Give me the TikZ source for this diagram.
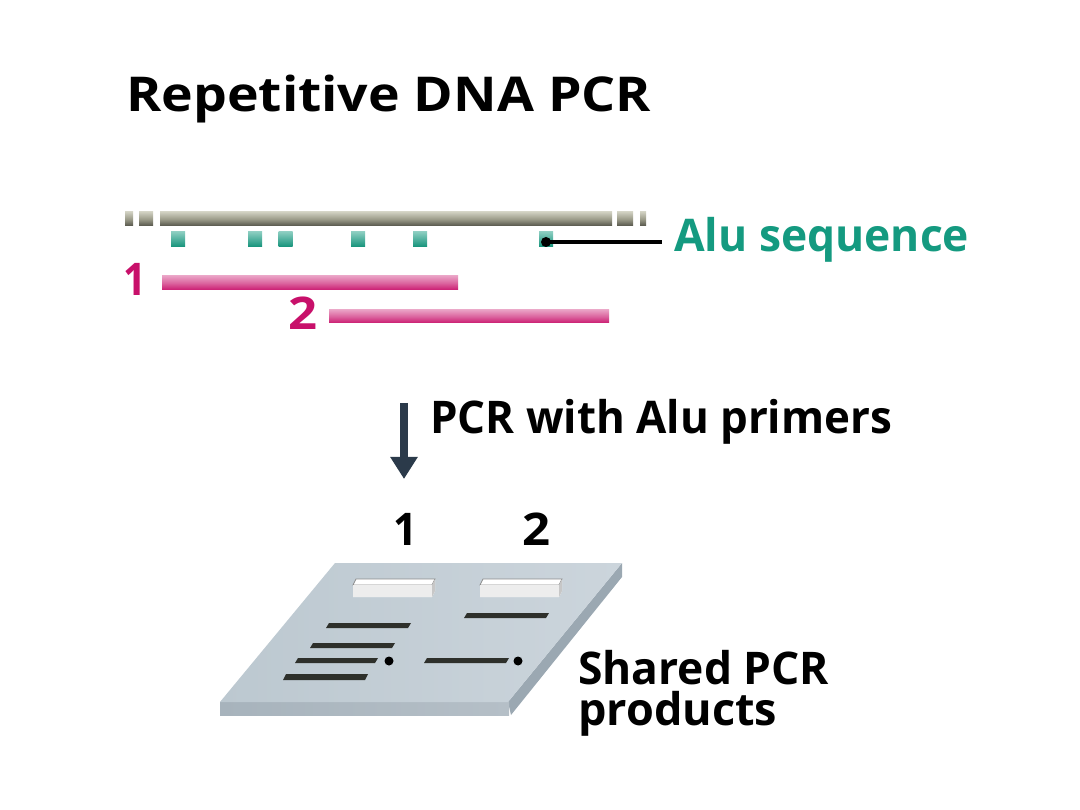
\documentclass[tikz,border=0pt]{standalone}
\usepackage{fontspec}
\usepackage{graphicx}
\setmainfont{Open Sans}
\usetikzlibrary{arrows.meta}
\definecolor{alu}{HTML}{149A80}
\definecolor{pinkc}{HTML}{C8106A}
\definecolor{arrowc}{HTML}{2B3A4A}
\definecolor{band}{HTML}{2E302B}
\definecolor{gtop}{HTML}{CFCFC0}
\definecolor{gmid}{HTML}{9C9C8A}
\definecolor{gbot}{HTML}{55554A}
\definecolor{geltopL}{HTML}{BCC8D0}
\definecolor{geltopR}{HTML}{CCD5DC}
\definecolor{gelfrontL}{HTML}{A7B3BC}
\definecolor{gelfrontR}{HTML}{B5BFC7}
\definecolor{gelside}{HTML}{9BA8B2}
\newcommand{\fitw}[2]{\resizebox{#1}{\height}{#2}}
\tikzset{
  lbl/.style={inner sep=0pt, anchor=base west, font=\bfseries\fontsize{45}{50}\selectfont},
  title/.style={inner sep=0pt, anchor=base west, font=\bfseries\fontsize{48}{54}\selectfont},
  graybar/.style={top color=gtop, bottom color=gbot, middle color=gmid, draw=none},
  pinkbar/.style={top color=pinkc!40, bottom color=pinkc!95, middle color=pinkc!65, draw=none},
  alusq/.style={minimum width=14pt, minimum height=15pt, inner sep=0pt, top color=alu!50, bottom color=alu!95!black, draw=none},
  bandp/.style={fill=band, draw=none},
}
\begin{document}
\begin{tikzpicture}[x=1pt,y=-1pt]
\useasboundingbox (0,0) rectangle (1080,810);
% title
\node[title] (title) at (126,112) {\fitw{525pt}{Repetitive DNA PCR}};
% gray DNA bar with dashes
\shade[graybar] (125,212) rectangle (133,226);
\shade[graybar] (139,212) rectangle (153,226);
\shade[graybar] (160,212) rectangle (612,226);
\shade[graybar] (617,212) rectangle (633,226);
\shade[graybar] (640,212) rectangle (646,226);
% Alu squares
\node[alusq] (sq1) at (178,239.5) {};
\node[alusq] (sq2) at (255,239.5) {};
\node[alusq] (sq3) at (285.5,239.5) {};
\node[alusq] (sq4) at (358,239.5) {};
\node[alusq] (sq5) at (420,239.5) {};
\node[alusq] (sq6) at (546,239.5) {};
\node[lbl, text=alu] (alu) at (674,252) {\fitw{295pt}{Alu sequence}};
\coordinate (aluend) at (662,242);
\draw[line width=3.5pt] (sq6.center |- 0,242) -- (aluend);
\fill (sq6.center |- 0,242) circle (5pt);
% pink products
\shade[pinkbar] (162,276) rectangle (458,290);
\shade[pinkbar] (329,310) rectangle (609,323);
\node[lbl, text=pinkc] (one) at (123,296) {\fitw{23pt}{1}};
\node[lbl, text=pinkc] (two) at (288,330) {\fitw{29pt}{2}};
% arrow
\coordinate (atop) at (404,403);
\coordinate (abot) at (404,479);
\draw[arrowc, line width=8pt, -{Triangle[width=26pt,length=22pt]}] (atop) -- (abot);
\node[lbl] (pcr) at (430,433) {\fitw{462pt}{PCR with Alu primers}};
% lane labels
\node[lbl] (l1) at (393,545) {\fitw{24pt}{1}};
\node[lbl] (l2) at (522,545) {\fitw{28pt}{2}};
% gel
\fill[gelside] (622,563) -- (622,577) -- (511,715) -- (508,702) -- cycle;
\shade[left color=gelfrontL, right color=gelfrontR] (220,702) rectangle (509,715);
\shade[left color=geltopL, right color=geltopR] (335,563) -- (622,563) -- (508,702) -- (220,702) -- cycle;
% wells
\foreach \n/\x in {w1/353, w2/480} {
  \fill[white] (\x+3,579) -- (\x+82,579) -- (\x+82,591) -- (\x+79,597) -- (\x,597) -- (\x,585) -- cycle;
  \draw[black!45, line width=0.7pt] (\x+3,579) -- (\x+82,579) -- (\x+79,585) -- (\x,585) -- cycle;
  \fill[black!7] (\x,585) rectangle (\x+79,597);
  \fill[black!22] (\x+79,585) -- (\x+82,579) -- (\x+82,591) -- (\x+79,597) -- cycle;
}
% bands
\fill[bandp] (326,628) -- (329,623) -- (411,623) -- (408,628) -- cycle;
\fill[bandp] (310,648) -- (313,643) -- (395,643) -- (392,648) -- cycle;
\fill[bandp] (295,663) -- (298,658) -- (378,658) -- (375,663) -- cycle;
\fill[bandp] (283,680) -- (286,674) -- (368,674) -- (365,680) -- cycle;
\fill[bandp] (464,618) -- (467,613) -- (549,613) -- (546,618) -- cycle;
\fill[bandp] (424,663) -- (427,658) -- (509,658) -- (506,663) -- cycle;
\fill (389,661) circle (4.5pt);
\fill (518,661) circle (4.5pt);
% label
\node[lbl] (shared) at (578,684) {\fitw{251pt}{Shared PCR}};
\node[lbl] (prod) at (578,725) {\fitw{199pt}{products}};
\end{tikzpicture}
\end{document}
